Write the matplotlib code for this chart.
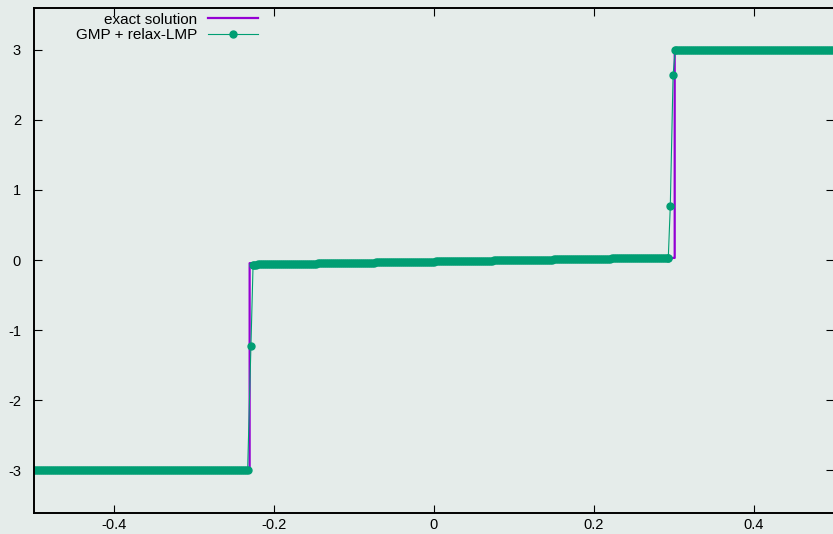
import numpy as np
import matplotlib
matplotlib.use('Agg')
import matplotlib.pyplot as plt

# exact solution: piecewise linear breakpoints
exact_x = [-0.5, -0.23, -0.23, 0.301, 0.301, 0.5]
exact_y = [-3.0, -3.0, -0.045, 0.03, 3.0, 3.0]

# numerical solution (GMP + relax-LMP)
n_cells = 400
left_level = -3.0
right_level = 3.0
mid_start, mid_end = -0.065, 0.035       # values at the ends of the middle state
jump1_x = [-0.2325, -0.2283, -0.2257]     # points across the left jump
jump1_y = [-3.0, -1.22, -0.065]
jump2_x = [0.293, 0.2955, 0.2990, 0.3017] # points across the right jump
jump2_y = [0.035, 0.77, 2.64, 3.0]

x_ticks = [-0.4, -0.2, 0, 0.2, 0.4]
x_labels = ['-0.4', '-0.2', '0', '0.2', '0.4']
y_ticks = [-3, -2, -1, 0, 1, 2, 3]

# build the cell grid for the plateaus
grid = np.linspace(-0.5, 0.5, n_cells + 1)
xl = grid[grid < jump1_x[0]]
xm = grid[(grid > jump1_x[-1]) & (grid < jump2_x[0])]
xr = grid[grid > jump2_x[-1]]
num_x = np.concatenate([xl, jump1_x, xm, jump2_x, xr])
num_y = np.concatenate([np.full(len(xl), left_level), jump1_y,
                        np.linspace(mid_start, mid_end, len(xm)),
                        jump2_y, np.full(len(xr), right_level)])

plt.rcParams['font.family'] = ['Liberation Sans', 'DejaVu Sans']
plt.rcParams['axes.unicode_minus'] = False
bg = '#e5ecea'

fig = plt.figure(figsize=(8.33, 5.34), dpi=100, facecolor=bg)
ax = fig.add_axes([33.5 / 833, 21.5 / 534, 800.5 / 833, 505 / 534])
ax.set_facecolor(bg)

ax.plot(exact_x, exact_y, color='#9400d3', lw=1.6, label='exact solution')
ax.plot(num_x, num_y, color='#009e73', lw=0.8, marker='o', ms=5.0,
        mec='#009e73', mfc='#009e73', label='GMP + relax-LMP')

ax.set_xlim(-0.5, 0.5)
ax.set_ylim(-3.6, 3.6)
ax.set_xticks(x_ticks)
ax.set_xticklabels(x_labels)
ax.set_yticks(y_ticks)
ax.tick_params(direction='in', length=6, width=0.8, labelsize=10.5,
               top=True, right=True)
ax.tick_params(axis='x', pad=4)
ax.tick_params(axis='y', pad=9)
for s in ax.spines.values():
    s.set_linewidth(1.4)

ax.legend(loc='upper right', bbox_to_anchor=(0.281, 0.99), frameon=False,
          markerfirst=False, fontsize=11, handlelength=3.3, handletextpad=0.7,
          labelspacing=0.1, borderpad=0, borderaxespad=0)

fig.savefig('out.png', dpi=100, facecolor=bg)
